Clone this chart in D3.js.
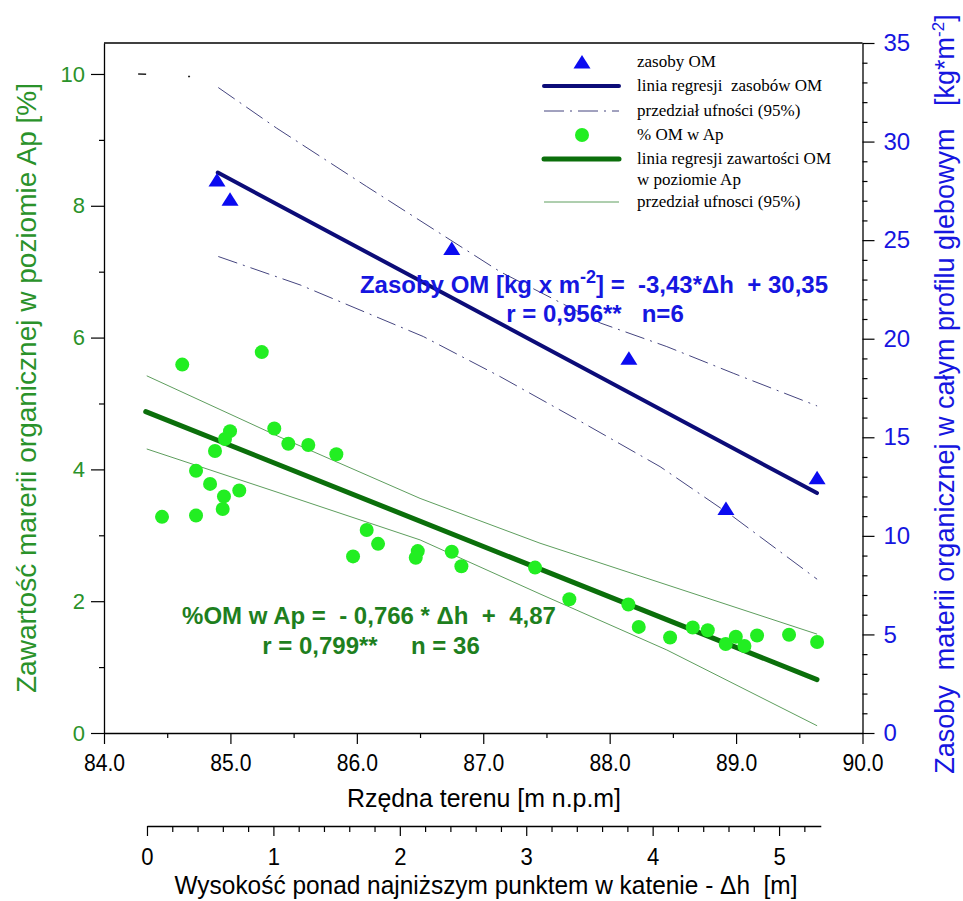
<!DOCTYPE html>
<html>
<head>
<meta charset="utf-8">
<script src="https://cdn.jsdelivr.net/npm/d3@7"></script>
<style>
  body { margin: 0; background: #fff; }
  text { font-family: "Liberation Sans", Arial, sans-serif; }
  .serif { font-family: "Liberation Serif", "Times New Roman", serif; }
</style>
</head>
<body>
<svg id="viz" width="963" height="901"></svg>
<script>
// elevation of the points [m a.s.l.] and OM stock [kg*m-2] (triangles)
let stockElev = [84.894, 84.997, 86.751, 88.152, 88.920, 89.641];
let stockVal = [28.05, 27.07, 24.57, 19.01, 11.39, 12.95];

// %OM in Ap horizon (green dots)
let omElev = [84.619, 85.248, 85.347, 85.458, 85.616, 85.838, 84.997, 84.957, 84.878, 84.728,
  84.839, 84.949, 85.070, 84.939, 84.459, 84.728, 86.078, 86.168, 85.970, 86.482,
  86.466, 86.751, 86.827, 87.410, 87.681, 88.148, 88.230, 88.478, 88.657, 88.776,
  88.918, 88.998, 89.066, 89.166, 89.419, 89.641];
let omVal = [5.59, 5.78, 4.62, 4.39, 4.37, 4.23, 4.58, 4.46, 4.28, 3.98,
  3.78, 3.59, 3.68, 3.40, 3.28, 3.30, 3.08, 2.87, 2.68, 2.76,
  2.66, 2.75, 2.53, 2.51, 2.03, 1.95, 1.61, 1.45, 1.60, 1.56,
  1.35, 1.46, 1.32, 1.48, 1.49, 1.38];

// regression lines (end points) and 95% confidence bands
let stockRegElev = [84.90, 89.64];
let stockRegVal = [28.43, 12.17];
let stockUpElev = [84.904, 85.366, 86.078, 87.133, 87.925, 88.452, 88.977, 89.641];
let stockUpVal = [32.74, 30.68, 27.72, 23.40, 20.80, 19.60, 18.25, 16.59];
let stockLoElev = [84.904, 85.551, 86.526, 87.133, 87.790, 88.399, 88.977, 89.641];
let stockLoVal = [24.17, 22.73, 20.11, 18.08, 15.73, 13.51, 10.97, 7.80];

let omRegElev = [84.33, 89.64];
let omRegVal = [4.876, 0.81];
let omUpElev = [84.338, 85.392, 86.500, 87.449, 89.641];
let omUpVal = [5.42, 4.49, 3.56, 2.88, 1.50];
let omLoElev = [84.338, 85.392, 86.500, 87.449, 88.452, 89.641];
let omLoVal = [4.31, 3.64, 2.93, 2.11, 1.26, 0.11];

// axes
let elevTicks = [84, 85, 86, 87, 88, 89, 90];
let leftTicks = [0, 2, 4, 6, 8, 10];
let rightTicks = [0, 5, 10, 15, 20, 25, 30, 35];
let dhTicks = [0, 1, 2, 3, 4, 5];
let dhZero = 84.34; // lowest point of the catena
let dhMax = 5.33;

let legendItems = ["zasoby OM", "linia regresji  zasobów OM", "przedział ufności (95%)",
  "% OM w Ap", "linia regresji zawartości OM", "przedział ufnosci (95%)"];

// colours
let blueMark = "#0b0bf0", blueLine = "#0c0c78", blueBand = "#45457f", blueText = "#1616e0";
let greenMark = "#22ee22", greenLine = "#0b6f0b", greenBand = "#5e9e5e", greenText = "#1e7f1e", greenAxis = "#2a922a";

let svg = d3.select("#viz");
let plotL = 104, plotR = 862.5, plotT = 43, plotB = 733;

let x = d3.scaleLinear().domain([84, 90]).range([plotL, plotR]);
let yL = d3.scaleLinear().domain([0, 10.47]).range([plotB, plotT]);
let yR = d3.scaleLinear().domain([0, 35]).range([plotB, plotT]);
let xd = d3.scaleLinear().domain([0, dhMax]).range([x(dhZero), x(dhZero + dhMax)]);

// frame top line
svg.append("line").attr("x1", plotL).attr("x2", plotR).attr("y1", plotT).attr("y2", plotT)
  .attr("stroke", "#000").attr("stroke-width", 1.3);

function styleAxis(g, color) {
  g.select(".domain").attr("stroke", "#000").attr("stroke-width", 1.3);
  g.selectAll(".tick line").attr("stroke", "#000").attr("stroke-width", 1.2);
  g.selectAll("text").attr("fill", color);
}
function minorTicks(g) {
  g.select(".domain").remove();
  g.selectAll("line").attr("stroke", "#000").attr("stroke-width", 1.2);
}

// left axis
let gL = svg.append("g").attr("transform", `translate(${plotL},0)`)
  .call(d3.axisLeft(yL).tickValues(leftTicks).tickFormat(d3.format("d")).tickSize(13).tickSizeOuter(0).tickPadding(6));
styleAxis(gL, greenAxis);
gL.selectAll("text").attr("font-size", 22);
svg.append("g").attr("transform", `translate(${plotL},0)`)
  .call(d3.axisLeft(yL).tickValues([1, 3, 5, 7, 9]).tickFormat("").tickSize(5).tickSizeOuter(0))
  .call(minorTicks);

// right axis
let gR = svg.append("g").attr("transform", `translate(${plotR},0)`)
  .call(d3.axisRight(yR).tickValues(rightTicks).tickSize(12).tickSizeOuter(0).tickPadding(9));
styleAxis(gR, blueText);
gR.selectAll("text").attr("font-size", 24);
svg.append("g").attr("transform", `translate(${plotR},0)`)
  .call(d3.axisRight(yR).tickValues(d3.range(0, 36).filter(v => v % 5)).tickFormat("").tickSize(5).tickSizeOuter(0))
  .call(minorTicks);

// bottom axis
let gB = svg.append("g").attr("transform", `translate(0,${plotB})`)
  .call(d3.axisBottom(x).tickValues(elevTicks).tickFormat(d3.format(".1f")).tickSize(11).tickSizeOuter(0).tickPadding(11));
styleAxis(gB, "#000");
gB.selectAll("text").attr("font-size", 23).attr("transform", "scale(0.92,1)");
svg.append("g").attr("transform", `translate(0,${plotB})`)
  .call(d3.axisBottom(x).tickValues([84.5, 85.5, 86.5, 87.5, 88.5, 89.5]).tickFormat("").tickSize(5).tickSizeOuter(0))
  .call(minorTicks);

svg.append("text").attr("transform", "translate(484,807) scale(0.94,1)")
  .attr("text-anchor", "middle").attr("font-size", 26.5).text("Rzędna terenu [m n.p.m]");

// second axis: height above lowest point
let dhY = 826;
let gD = svg.append("g").attr("transform", `translate(0,${dhY})`)
  .call(d3.axisBottom(xd).tickValues(dhTicks).tickFormat(d3.format("d")).tickSize(10).tickSizeOuter(0).tickPadding(12));
styleAxis(gD, "#000");
gD.selectAll("text").attr("font-size", 24).attr("transform", "scale(0.92,1)");
svg.append("g").attr("transform", `translate(0,${dhY})`)
  .call(d3.axisBottom(xd).tickValues(d3.range(1, 27).filter(i => i % 5).map(i => i * 0.2)).tickFormat("").tickSize(6).tickSizeOuter(0))
  .call(minorTicks);

svg.append("text").attr("transform", "translate(486,894) scale(0.94,1)")
  .attr("text-anchor", "middle").attr("font-size", 26).attr("xml:space", "preserve")
  .text("Wysokość ponad najniższym punktem w katenie - Δh  [m]");

// axis titles
svg.append("text").attr("transform", "translate(36,388) rotate(-90)")
  .attr("text-anchor", "middle").attr("font-size", 28).attr("fill", greenAxis)
  .text("Zawartość marerii organicznej w poziomie Ap [%]");
let rt = svg.append("text").attr("transform", "translate(954,394) rotate(-90)")
  .attr("text-anchor", "middle").attr("font-size", 27).attr("fill", blueText).attr("xml:space", "preserve");
rt.append("tspan").text("Zasoby  materii organicznej w całym profilu glebowym   [kg*m");
rt.append("tspan").attr("dy", -10).attr("font-size", 17).text("-2");
rt.append("tspan").attr("dy", 10).text("]");

// lines
let lineR = d3.line().x(d => x(d[0])).y(d => yR(d[1]));
let lineL = d3.line().x(d => x(d[0])).y(d => yL(d[1]));
let zip = (a, b) => a.map((v, i) => [v, b[i]]);

svg.append("path").attr("d", lineR(zip(stockUpElev, stockUpVal))).attr("fill", "none")
  .attr("stroke", blueBand).attr("stroke-width", 1).attr("stroke-dasharray", "20 6 2 6");
svg.append("path").attr("d", lineR(zip(stockLoElev, stockLoVal))).attr("fill", "none")
  .attr("stroke", blueBand).attr("stroke-width", 1).attr("stroke-dasharray", "20 6 2 6");
// clipped remains of the upper band at the top of the frame
svg.append("path").attr("d", lineL([[84.27, 10.0], [84.69, 9.96]])).attr("fill", "none")
  .attr("stroke", "#222").attr("stroke-width", 1.5).attr("stroke-dasharray", "8 42 2 60");

svg.append("path").attr("d", lineL(zip(omUpElev, omUpVal))).attr("fill", "none")
  .attr("stroke", greenBand).attr("stroke-width", 1);
svg.append("path").attr("d", lineL(zip(omLoElev, omLoVal))).attr("fill", "none")
  .attr("stroke", greenBand).attr("stroke-width", 1);

svg.append("path").attr("d", lineR(zip(stockRegElev, stockRegVal))).attr("fill", "none")
  .attr("stroke", blueLine).attr("stroke-width", 4).attr("stroke-linecap", "round");
svg.append("path").attr("d", lineL(zip(omRegElev, omRegVal))).attr("fill", "none")
  .attr("stroke", greenLine).attr("stroke-width", 5).attr("stroke-linecap", "round");

// markers
let tri = (cx, cy) => `M${cx},${cy - 7}L${cx + 8.5},${cy + 6.5}L${cx - 8.5},${cy + 6.5}Z`;

svg.selectAll(".om").data(zip(omElev, omVal)).enter().append("circle")
  .attr("cx", d => x(d[0])).attr("cy", d => yL(d[1])).attr("r", 7).attr("fill", greenMark);
svg.selectAll(".stock").data(zip(stockElev, stockVal)).enter().append("path")
  .attr("d", d => tri(x(d[0]), yR(d[1]))).attr("fill", blueMark);

// regression equations
let eq1 = svg.append("text").attr("x", 594).attr("y", 293).attr("text-anchor", "middle")
  .attr("font-size", 24).attr("font-weight", "bold").attr("fill", blueText).attr("xml:space", "preserve");
eq1.append("tspan").text("Zasoby OM [kg x m");
eq1.append("tspan").attr("dy", -10).attr("font-size", 18).text("-2");
eq1.append("tspan").attr("dy", 10).text("] =  -3,43*Δh  + 30,35");
svg.append("text").attr("x", 595).attr("y", 322).attr("text-anchor", "middle")
  .attr("font-size", 24).attr("font-weight", "bold").attr("fill", blueText)
  .attr("xml:space", "preserve").text("r = 0,956**   n=6");

svg.append("text").attr("x", 369).attr("y", 624).attr("text-anchor", "middle")
  .attr("font-size", 24).attr("font-weight", "bold").attr("fill", greenText)
  .attr("xml:space", "preserve").text("%OM w Ap =  - 0,766 * Δh  +  4,87");
svg.append("text").attr("x", 371).attr("y", 654).attr("text-anchor", "middle")
  .attr("font-size", 24).attr("font-weight", "bold").attr("fill", greenText)
  .attr("xml:space", "preserve").text("r = 0,799**     n = 36");

// legend
let lg = svg.append("g");
let legY = [62, 86, 111, 135, 159, 202];
lg.append("path").attr("d", tri(582, legY[0])).attr("fill", blueMark);
lg.append("line").attr("x1", 544).attr("x2", 619).attr("y1", legY[1]).attr("y2", legY[1])
  .attr("stroke", blueLine).attr("stroke-width", 4).attr("stroke-linecap", "round");
lg.append("line").attr("x1", 544).attr("x2", 619).attr("y1", legY[2]).attr("y2", legY[2])
  .attr("stroke", blueBand).attr("stroke-width", 1).attr("stroke-dasharray", "20 6 2 6");
lg.append("circle").attr("cx", 582).attr("cy", legY[3]).attr("r", 7).attr("fill", greenMark);
lg.append("line").attr("x1", 544).attr("x2", 619).attr("y1", legY[4]).attr("y2", legY[4])
  .attr("stroke", greenLine).attr("stroke-width", 5).attr("stroke-linecap", "round");
lg.append("line").attr("x1", 544).attr("x2", 619).attr("y1", legY[5]).attr("y2", legY[5])
  .attr("stroke", greenBand).attr("stroke-width", 1);
legendItems.forEach((t, i) => {
  lg.append("text").attr("class", "serif").attr("x", 637).attr("y", legY[i] + 5)
    .attr("font-size", 17).attr("xml:space", "preserve").text(t);
});
lg.append("text").attr("class", "serif").attr("x", 637).attr("y", 185)
  .attr("font-size", 17).text("w poziomie Ap");
</script>
</body>
</html>
